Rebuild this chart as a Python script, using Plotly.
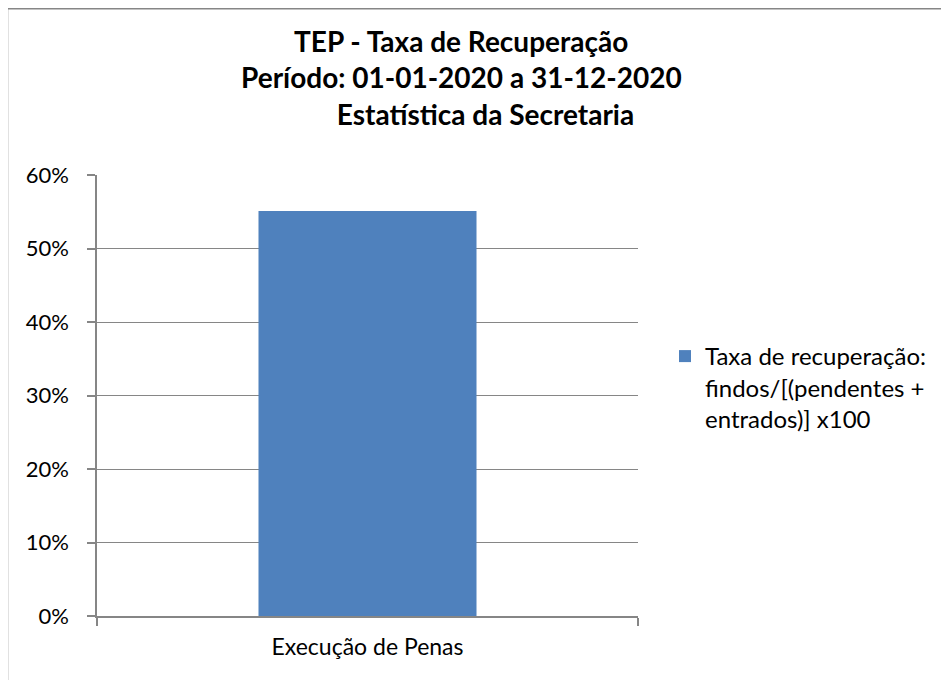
import plotly.graph_objects as go

categories = ["Execução de Penas"]
values = [55.1]
series_name = "Taxa de recuperação:<br>findos/[(pendentes +<br>entrados)] x100"
title_lines = ["TEP - Taxa de Recuperação", "Período: 01-01-2020 a 31-12-2020", " Estatística da Secretaria"]
y_ticks = [0, 10, 20, 30, 40, 50, 60]
y_tick_labels = ["0%", "10%", "20%", "30%", "40%", "50%", "60%"]

FONT = "Lato"
GRAY = "#868686"
OFF = 8  # page offset of the figure

W, H = 949, 680
L, R, T, B = 89, 319, 167, 72
pw, ph = W - L - R, H - T - B

def px_x(x):
    return (x - OFF - L) / pw

def px_y(y):
    return (H - B - (y - OFF)) / ph

fig = go.Figure()
fig.add_trace(go.Bar(
    x=categories, y=values, name=series_name,
    marker=dict(color="#4F81BD", line=dict(width=0)),
    width=0.403, showlegend=True,
))

annotations = []
title_y = [41, 77, 114]
title_x = [461, 461, 482]
for txt, yy, xx in zip(title_lines, title_y, title_x):
    annotations.append(dict(
        text=f"<b>{txt}</b>", x=px_x(xx), y=px_y(yy), xref="paper", yref="paper",
        xanchor="center", yanchor="middle", showarrow=False,
        font=dict(family=FONT, size=28, color="#000000"),
    ))

fig.update_layout(
    width=W, height=H,
    margin=dict(l=L, r=R, t=T, b=B, autoexpand=False),
    paper_bgcolor="white", plot_bgcolor="white",
    font=dict(family=FONT, size=22, color="#000000"),
    annotations=annotations,
    showlegend=True,
    legend=dict(
        x=px_x(665), y=px_y(334), xanchor="left", yanchor="top",
        font=dict(family=FONT, size=24, color="#000000"),
        bgcolor="rgba(0,0,0,0)", itemwidth=30, tracegroupgap=0,
        valign="top",
    ),
    shapes=[dict(
        type="rect", xref="paper", yref="paper",
        x0=px_x(7.5), x1=px_x(960), y0=px_y(700), y1=px_y(8.75),
        line=dict(color=GRAY, width=1.5), fillcolor="rgba(0,0,0,0)", layer="below",
    )],
)

fig.update_yaxes(
    range=[0, 60], tickvals=y_ticks, ticktext=y_tick_labels,
    showgrid=True, gridcolor=GRAY, gridwidth=1,
    showline=True, linecolor=GRAY, linewidth=1.5,
    ticks="outside", ticklen=8, tickcolor=GRAY, tickwidth=1.5,
    ticklabelstandoff=14, zeroline=False,
    tickfont=dict(family=FONT, size=22),
)
fig.update_xaxes(
    showline=True, linecolor=GRAY, linewidth=1.5,
    ticks="outside", tickson="boundaries", ticklen=8, tickcolor=GRAY, tickwidth=1.5,
    ticklabelstandoff=10, showgrid=False,
    tickfont=dict(family=FONT, size=23),
)

fig.write_html("out.html")
